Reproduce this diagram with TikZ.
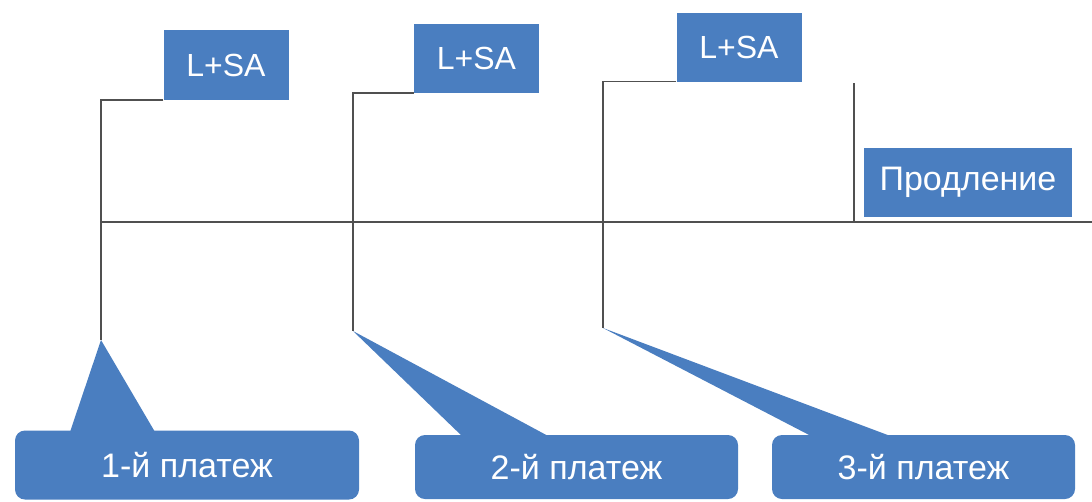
\documentclass[tikz,border=0pt]{standalone}
\usepackage{fontspec}
\setmainfont{Liberation Sans}
\usetikzlibrary{positioning}
\definecolor{boxblue}{RGB}{74,126,192}
\definecolor{linegray}{RGB}{80,80,80}

\begin{document}
\begin{tikzpicture}[x=1pt, y=-1pt,
    lsa/.style={fill=boxblue, text=white, inner sep=0pt, minimum width=125pt, minimum height=69pt, font=\fontsize{32}{38}\selectfont},
    pay/.style={fill=boxblue, text=white, inner sep=0pt, rounded corners=10pt, minimum height=64pt, font=\fontsize{34}{40}\selectfont},
    tl/.style={draw=linegray, line width=1.5pt}]
        \useasboundingbox (0, 0) rectangle (1092, 501);

        \node[lsa, minimum height=70pt] at (226, 65)(lsa1){L+SA};
        \node[lsa] at (476.5, 58.5)(lsa2){L+SA};
        \node[lsa] at (739, 47)(lsa3){L+SA};
        \node[lsa, minimum width=208pt, font=\fontsize{34}{40}\selectfont] at (968, 182.5)(prod){Продление};

        \node[pay, minimum width=344pt, minimum height=69pt] at (187, 465)(pay1){1-й платеж};
        \node[pay, minimum width=323pt] at (576.5, 467)(pay2){2-й платеж};
        \node[pay, minimum width=303pt] at (923.5, 467)(pay3){3-й платеж};

        \coordinate (t1) at (101, 340);
        \coordinate (t2) at (353, 331);
        \coordinate (t3) at (603, 328);
        \coordinate (ax0) at (101, 222);
        \coordinate (ax1) at (1092, 222);
        \coordinate (r1) at (854, 83);

        % pointers of the callouts
        \fill[boxblue] (t1) -- (70, 432) -- (155, 432) -- cycle;
        \fill[boxblue] (t2) -- (463, 437) -- (550, 437) -- cycle;
        \fill[boxblue] (t3) -- (813, 437) -- (893, 437) -- cycle;

        \draw[tl] (ax0) -- (ax1);
        \draw[tl] (lsa1.south west) -| (t1);
        \draw[tl] (lsa2.south west) -| (t2);
        \draw[tl] (lsa3.south west) -| (t3);
        \draw[tl] (r1) -- (r1 |- ax0);
    \end{tikzpicture}
\end{document}
